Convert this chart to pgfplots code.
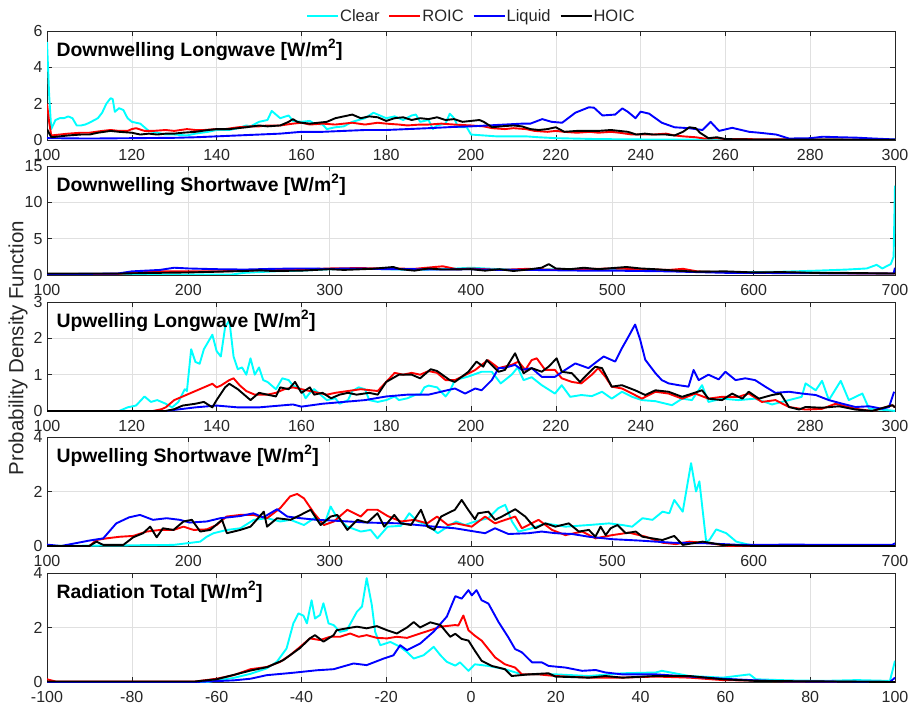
\documentclass[border=0pt]{standalone}
\usepackage{fontspec}
\setmainfont{Liberation Sans}
\usepackage{pgfplots}
\pgfplotsset{compat=1.18}
\definecolor{axgray}{RGB}{38,38,38}
\definecolor{gridgray}{RGB}{224,224,224}
\definecolor{cCyan}{RGB}{0,255,255}
\definecolor{cRed}{RGB}{255,0,0}
\definecolor{cBlue}{RGB}{0,0,255}
\definecolor{cBlack}{RGB}{0,0,0}
\pgfplotsset{panel/.style={
  scale only axis, width=848pt, height=109pt,
  anchor=north west,
  axis line style={axgray, line width=0.6pt},
  tick style={axgray, line width=0.6pt},
  major tick length=5pt,
  tick align=inside,
  grid=major, major grid style={gridgray, line width=0.6pt},
  ticklabel style={font=\fontsize{16}{16}\selectfont, text=axgray, inner sep=0.5pt},
  xticklabel style={yshift=-8.5pt},
  yticklabel style={xshift=-3.8pt},
  /pgf/number format/assume math mode=true,
  /pgf/number format/1000 sep={},
  scaled ticks=false,
  every axis plot/.append style={line width=1.9pt, mark=none, line join=round},
  ymin=0,
}}
\newcommand{\ptitle}[1]{\node[anchor=west, inner sep=0pt, font=\bfseries\fontsize{19.4}{19.4}\selectfont] at (rel axis cs:0.011,0.826) {#1};}
\begin{document}
\begin{tikzpicture}
\useasboundingbox (0,0) rectangle (910pt,-706pt);
% ---------------- Panel 1 ----------------
\begin{axis}[panel, at={(47pt,-31pt)},
  xmin=100, xmax=300, xtick={100,120,...,300},
  ymax=6, ytick={0,2,4,6},
  legend columns=4,
  legend style={at={(0.5,1)}, anchor=center, yshift=15pt, draw=none, fill=none,
    font=\fontsize{16.5}{16.5}\selectfont, text=axgray,
    nodes={inner sep=1pt},
    /tikz/every even column/.append style={column sep=8pt}},
  legend image code/.code={\draw[#1, line width=1.9pt] (0pt,0pt) -- (31pt,0pt);},
]
\addplot[cCyan] coordinates {(100,5.4)(100.5,2.5)(101,0.6)(102,1.1)(103,1.2)(104,1.2)(105,1.3)(106,1.2)(107,0.8)(108,0.8)(109,0.85)(110,0.95)(112,1.2)(113,1.5)(114,2.0)(115,2.3)(115.5,2.25)(116,1.55)(117,1.75)(118,1.65)(119,1.2)(120,1.0)(122,0.9)(123,0.7)(124,0.5)(126,0.4)(128,0.3)(130,0.3)(133,0.25)(135,0.35)(138,0.45)(140,0.55)(143,0.55)(145,0.65)(147,0.8)(148,0.75)(150,1.0)(152,1.1)(153,1.6)(154,1.4)(155,1.2)(157,1.35)(158,1.05)(160,1.0)(162,1.05)(163,0.9)(165,0.85)(166,0.6)(168,0.7)(170,0.75)(172,1.0)(175,1.2)(177,1.5)(178,1.4)(180,1.2)(182,1.3)(184,1.1)(186,1.35)(187,1.4)(188,1.0)(190,1.1)(191,0.6)(192,0.8)(194,0.9)(195,1.45)(196,1.2)(197,0.7)(199,0.7)(200,0.3)(203,0.25)(206,0.2)(210,0.2)(213,0.2)(216,0.15)(220,0.1)(230,0.05)(240,0.03)(260,0.02)(300,0.02)};
\addlegendentry{Clear}
\addplot[cRed] coordinates {(100,2.0)(100.5,1.0)(101,0.25)(103,0.3)(105,0.35)(108,0.4)(110,0.4)(113,0.5)(115,0.55)(117,0.5)(119,0.5)(120,0.6)(121,0.65)(123,0.5)(125,0.5)(128,0.55)(130,0.5)(133,0.6)(135,0.55)(137,0.55)(140,0.6)(142,0.6)(145,0.7)(148,0.75)(150,0.75)(152,0.8)(155,0.8)(158,0.9)(160,0.95)(162,0.85)(165,0.9)(168,0.85)(170,0.9)(172,0.95)(175,0.85)(178,0.95)(180,0.9)(183,0.85)(185,0.8)(188,0.85)(190,0.85)(193,0.9)(196,0.85)(200,0.8)(203,0.75)(205,0.65)(208,0.6)(210,0.65)(213,0.6)(215,0.5)(218,0.45)(220,0.5)(222,0.45)(225,0.4)(228,0.45)(230,0.4)(233,0.45)(235,0.4)(238,0.3)(240,0.3)(243,0.3)(246,0.35)(248,0.25)(250,0.2)(253,0.15)(255,0.08)(258,0.1)(260,0.05)(270,0.04)(280,0.03)(290,0.02)(300,0.01)};
\addlegendentry{ROIC}
\addplot[cBlue] coordinates {(100,0.1)(110,0.08)(120,0.1)(130,0.12)(135,0.15)(140,0.2)(145,0.25)(150,0.3)(155,0.35)(160,0.45)(165,0.45)(170,0.5)(175,0.55)(180,0.55)(185,0.6)(190,0.65)(196,0.72)(200,0.75)(204,0.8)(208,0.85)(212,0.9)(214,0.9)(216.8,1.15)(219,1.0)(221.5,0.95)(224.6,1.5)(227.8,1.8)(229,1.78)(231,1.35)(234,1.4)(235.7,1.74)(237,1.55)(238.8,1.2)(240,1.56)(242,1.45)(245,0.95)(248,0.7)(251.4,0.65)(254.6,0.55)(256.5,1.0)(258.5,0.5)(261.6,0.67)(265.6,0.45)(268,0.4)(272,0.3)(275,0.08)(280,0.1)(283,0.18)(287,0.15)(290.8,0.13)(295,0.08)(300,0.03)};
\addlegendentry{Liquid}
\addplot[cBlack] coordinates {(100,0.6)(101,0.15)(103,0.2)(105,0.25)(108,0.3)(110,0.3)(112,0.4)(115,0.5)(117,0.45)(120,0.4)(122,0.3)(124,0.35)(126,0.3)(128,0.35)(130,0.35)(132,0.4)(135,0.45)(138,0.55)(140,0.6)(143,0.6)(145,0.65)(147,0.7)(150,0.8)(152,0.75)(155,0.8)(157,1.0)(158,1.15)(159,1.0)(160,0.95)(162,0.9)(164,0.95)(166,1.0)(168,1.2)(170,1.3)(172,1.4)(174,1.2)(176,1.3)(178,1.25)(180,1.05)(182,1.2)(184,1.25)(186,1.1)(188,1.2)(190,1.15)(192,1.25)(194,1.1)(196,1.15)(198,1.0)(200,1.05)(202,1.1)(203,1.0)(205,0.7)(207,0.75)(210,0.8)(212,0.75)(214,0.6)(216,0.55)(218,0.6)(220,0.7)(222,0.45)(225,0.5)(228,0.5)(230,0.5)(233,0.55)(235,0.5)(237,0.45)(239,0.3)(241,0.35)(243,0.3)(246,0.3)(248,0.25)(250,0.45)(251.5,0.7)(253,0.65)(254,0.4)(256,0.1)(258,0.15)(260,0.05)(265,0.03)(280,0.02)(300,0.01)};
\addlegendentry{HOIC}
\ptitle{Downwelling Longwave [W/m\textsuperscript{2}]}
\end{axis}
% ---------------- Panel 2 ----------------
\begin{axis}[panel, at={(47pt,-166pt)},
  xmin=100, xmax=700, xtick={100,200,...,700},
  ymax=15, ytick={0,5,10,15},
]
\addplot[cCyan] coordinates {(100,0.1)(150,0.05)(200,0.05)(230,0.05)(240,0.3)(260,0.5)(280,0.6)(300,0.8)(320,0.9)(340,0.8)(360,0.7)(380,0.8)(400,1.0)(420,0.8)(440,0.7)(460,0.8)(480,0.7)(500,0.8)(520,0.7)(540,0.6)(560,0.5)(580,0.4)(600,0.4)(620,0.45)(645,0.6)(666,0.75)(680,0.9)(687,1.4)(691,0.9)(697,1.5)(699,2.5)(700,12.3)};
\addplot[cRed] coordinates {(100,0.1)(150,0.15)(160,0.3)(180,0.5)(200,0.5)(220,0.5)(240,0.6)(260,0.7)(280,0.75)(300,0.9)(320,0.95)(340,0.9)(360,0.85)(380,1.2)(390,0.8)(400,0.9)(420,0.7)(440,0.85)(460,0.7)(480,0.8)(500,0.9)(520,0.8)(540,0.7)(550,0.85)(560,0.5)(580,0.4)(600,0.3)(620,0.35)(640,0.3)(660,0.25)(680,0.2)(700,0.2)};
\addplot[cBlue] coordinates {(100,0.1)(150,0.2)(160,0.5)(180,0.7)(190,1.0)(200,0.9)(220,0.8)(240,0.75)(260,0.85)(280,0.9)(300,0.85)(320,0.9)(340,0.8)(360,0.8)(380,0.75)(400,0.8)(420,0.7)(440,0.7)(460,0.65)(480,0.6)(500,0.6)(520,0.55)(540,0.5)(560,0.4)(580,0.3)(600,0.3)(620,0.25)(640,0.25)(660,0.2)(680,0.2)(699,0.2)(700,1.0)};
\addplot[cBlack] coordinates {(100,0.2)(150,0.2)(180,0.3)(200,0.35)(220,0.45)(240,0.55)(250,0.65)(260,0.55)(280,0.6)(300,0.8)(310,0.7)(330,0.85)(345,1.1)(350,0.8)(360,0.6)(370,0.9)(380,0.75)(400,0.8)(410,0.6)(420,0.8)(430,0.55)(440,0.75)(450,1.0)(455,1.5)(460,0.9)(470,0.8)(480,1.0)(490,0.8)(500,0.95)(510,1.1)(520,0.9)(530,0.8)(545,0.6)(560,0.45)(580,0.5)(600,0.35)(620,0.4)(640,0.3)(660,0.3)(680,0.25)(700,0.2)};
\ptitle{Downwelling Shortwave [W/m\textsuperscript{2}]}
\end{axis}
% ---------------- Panel 3 ----------------
\begin{axis}[panel, at={(47pt,-302pt)},
  xmin=100, xmax=300, xtick={100,120,...,300},
  ymax=3, ytick={0,1,2,3},
]
\addplot[cCyan] coordinates {(100,0)(117,0)(119,0.1)(121,0.15)(123,0.4)(124.5,0.25)(126,0.3)(128,0.2)(129.5,0.1)(131,0.25)(132.5,0.6)(133,0.55)(134,1.7)(135,1.35)(136,1.3)(137,1.7)(139,2.1)(140,1.65)(141,1.5)(142,2.3)(143,2.5)(144,1.5)(145,1.15)(146,1.2)(147,1.0)(148,1.45)(149,1.0)(150,1.2)(151,0.85)(152,0.8)(154,0.6)(155.5,0.9)(157,0.85)(158,0.7)(160,0.6)(161,0.35)(162,0.5)(163,0.6)(165,0.4)(166,0.3)(168,0.35)(169,0.2)(171,0.3)(172,0.55)(173.5,0.65)(175,0.6)(176,0.3)(178,0.25)(180,0.3)(182,0.4)(183,0.3)(185,0.35)(187,0.45)(188,0.45)(189,0.65)(190,0.7)(192,0.65)(194,0.4)(195,0.55)(196.2,0.85)(199.4,0.95)(202.5,1.08)(204.9,1.08)(207,0.76)(209.6,1.0)(211,1.2)(212.4,0.85)(214.3,0.93)(216.7,0.71)(219.8,0.48)(221.4,0.71)(223.4,0.39)(226,0.44)(228.5,0.41)(230.9,0.53)(233.2,0.34)(235.6,0.53)(238,0.39)(240.3,0.3)(243.5,0.27)(247.4,0.16)(249.8,0.34)(252.1,0.3)(254.5,0.71)(256,0.25)(259.2,0.34)(263.1,0.3)(267,0.34)(271,0.18)(275,0.3)(278,0.39)(278.9,0.76)(281.3,0.57)(282.8,0.83)(284.4,0.3)(287.2,0.83)(289.1,0.3)(292.3,0.48)(293.9,0.06)(298.6,0.02)(300,0)};
\addplot[cRed] coordinates {(100,0)(125,0)(127,0.05)(128,0.1)(130,0.3)(133,0.45)(135,0.55)(138,0.7)(139,0.75)(140,0.65)(141,0.7)(143,0.85)(144,0.9)(145.5,0.7)(147,0.55)(149,0.45)(152,0.45)(154,0.5)(156,0.6)(158,0.65)(160,0.6)(162,0.55)(164,0.5)(166,0.45)(168,0.5)(171,0.55)(174,0.6)(178,0.55)(180,0.8)(182,1.05)(184,1.0)(186,1.05)(188,1.0)(190,1.1)(192,1.05)(194,0.85)(196.2,0.85)(201,1.13)(202.5,1.27)(204,1.4)(206.5,1.18)(209.6,1.27)(211.2,1.36)(212.8,1.13)(214.3,1.4)(215.5,1.45)(217.5,1.13)(219.8,1.13)(221.4,0.9)(223.8,0.8)(226,0.76)(228.5,1.0)(230,1.18)(231.7,0.94)(233.2,0.67)(235.6,0.62)(238,0.48)(240.3,0.34)(243.5,0.53)(246.6,0.48)(249.8,0.34)(252.9,0.48)(256,0.34)(259.2,0.39)(263.1,0.39)(265.5,0.48)(268.6,0.25)(271.8,0.3)(275,0.11)(278.9,0.04)(282.8,0.06)(286,0.2)(290.7,0.06)(294.6,0)(299.4,0.16)(300,0.1)};
\addplot[cBlue] coordinates {(100,0)(128,0)(130,0.03)(135,0.1)(140,0.15)(145,0.1)(150,0.1)(155,0.15)(158,0.18)(160,0.12)(165,0.2)(170,0.25)(175,0.3)(180,0.4)(185,0.45)(190,0.45)(196.2,0.62)(198.6,0.48)(201,0.62)(202.5,0.57)(204.9,0.85)(206.5,1.18)(208,1.19)(210.4,1.27)(212,1.13)(214.3,1.18)(216.7,0.94)(219.8,0.94)(222.2,1.13)(224.6,1.31)(227.7,1.18)(229.7,1.36)(231.3,1.5)(234,1.36)(235.6,1.73)(237.2,2.06)(238.7,2.38)(239.9,1.96)(241.1,1.41)(243.5,1.04)(245,0.85)(246.6,0.76)(249,0.71)(251.3,0.67)(252.5,1.13)(253.7,0.85)(256,1.0)(258.4,0.87)(260,1.08)(262.4,0.85)(264.7,0.9)(267,0.85)(269.4,0.67)(271.8,0.5)(275,0.53)(278.1,0.48)(281.3,0.44)(284.4,0.3)(287.6,0.2)(290.7,0.11)(293.9,0.13)(297,0.06)(298.6,0.11)(299.8,0.53)};
\addplot[cBlack] coordinates {(100,0)(128,0)(130,0.05)(132,0.15)(135,0.2)(137,0.25)(139,0.1)(140,0.3)(142,0.65)(143,0.75)(145,0.6)(147,0.4)(148,0.3)(150,0.5)(152,0.45)(154,0.4)(155,0.65)(157,0.6)(158.5,0.8)(160,0.5)(162,0.65)(163,0.45)(165,0.5)(167,0.35)(169,0.45)(171,0.5)(173,0.45)(176,0.5)(178,0.45)(180,0.8)(183,1.0)(186,1.0)(188,0.9)(190.5,1.15)(192,1.1)(195,0.85)(196.2,0.8)(199.4,1.08)(201.3,1.36)(202.9,1.22)(203.7,1.4)(206.5,1.08)(208,1.13)(210.4,1.59)(212.4,1.04)(214.3,1.18)(216.7,1.08)(218.3,1.22)(220.2,1.45)(221.4,1.08)(223.8,1.04)(225.7,0.8)(227.7,1.04)(229.3,1.22)(230.9,1.18)(233.2,0.67)(235.6,0.71)(238.7,0.57)(241.1,0.44)(243.5,0.57)(246.6,0.53)(249.8,0.39)(254.5,0.57)(256,0.34)(259.2,0.3)(261.6,0.48)(264,0.34)(265.5,0.53)(267.9,0.34)(271,0.44)(273,0.48)(275,0.11)(277.4,0.04)(278.9,0.11)(282.8,0.09)(286.8,0.13)(290.7,0.04)(294.6,0)(299.4,0.16)(300,0.1)};
\ptitle{Upwelling Longwave [W/m\textsuperscript{2}]}
\end{axis}
% ---------------- Panel 4 ----------------
\begin{axis}[panel, at={(47pt,-437pt)},
  xmin=100, xmax=700, xtick={100,200,...,700},
  ymax=4, ytick={0,2,4},
]
\addplot[cCyan] coordinates {(100,0)(189.5,0.04)(199,0.1)(208.4,0.16)(213,0.34)(217.9,0.47)(227.3,0.59)(236.8,0.65)(246.3,0.96)(255.7,1.02)(265,0.9)(272.3,0.96)(281.8,0.77)(289,1.02)(296,0.77)(300.7,1.45)(305.4,1.02)(312.5,0.71)(322,0.53)(329,0.59)(333.8,0.28)(341,0.71)(350.4,0.74)(356.3,1.2)(362.2,0.9)(369.3,0.77)(376.5,0.47)(383.5,0.71)(389.5,0.9)(395.7,0.77)(402.8,0.9)(412.3,1.02)(419.4,1.39)(424.2,1.51)(429,0.9)(433.6,0.53)(443,0.65)(452.6,0.83)(466.8,0.71)(483.4,0.77)(497.6,0.83)(507,0.77)(514,0.71)(521.3,1.02)(528.4,0.96)(535.5,1.26)(540.3,1.2)(543.8,1.69)(549.8,1.26)(555.7,3.04)(559.2,2.0)(561.6,2.37)(566.4,0.16)(568.7,0.22)(573.5,0.61)(580.6,0.47)(587.7,0.16)(594.8,0.07)(602,0)(700,0)};
\addplot[cRed] coordinates {(100,0.02)(105,0)(130,0)(135,0.22)(142,0.28)(151.6,0.34)(161,0.37)(170.5,0.53)(180,0.59)(189.5,0.59)(196.6,0.71)(203.7,0.59)(213,0.61)(220,0.77)(227,1.08)(236.8,1.14)(246,1.14)(255.7,1.02)(265,1.39)(272,1.82)(277,1.91)(281.8,1.75)(289,1.2)(296,0.77)(303,0.9)(312.5,1.33)(322,1.08)(326.7,1.33)(333.8,1.33)(341,1.1)(350.4,0.9)(360,0.96)(369,0.83)(376,1.08)(383.5,0.77)(389.5,0.83)(400.5,0.71)(410,1.08)(417,0.83)(424.2,0.96)(431.3,1.08)(436,0.65)(447.8,0.96)(457.3,0.59)(466.8,0.4)(478.7,0.53)(488,0.28)(500,0.4)(511.8,0.49)(523.7,0.34)(535.5,0.12)(545,0.07)(554.5,0.16)(568.7,0.1)(583,0)(700,0)};
\addplot[cBlue] coordinates {(100,0.05)(110,0)(120,0.1)(130,0.2)(139.8,0.28)(149,0.83)(158,1.05)(165.8,1.14)(175,0.96)(184.7,1.02)(194,0.96)(201,0.86)(213,0.9)(222.6,1.02)(236.8,1.1)(246,1.2)(253,1.05)(262.8,1.35)(270,1.08)(279.4,1.02)(291,0.96)(303,0.93)(326.7,0.86)(350.4,0.83)(374,0.71)(388.6,0.65)(402.8,0.53)(410,0.47)(417,0.65)(426.5,0.44)(440.8,0.47)(450,0.53)(459.7,0.47)(471.6,0.44)(483.4,0.34)(500,0.25)(519,0.2)(542.7,0.12)(566,0.1)(590,0.04)(625.6,0.05)(673,0.04)(698,0.04)(700,0.1)};
\addplot[cBlack] coordinates {(100,0)(130,0)(135,0.16)(139.8,0.04)(154,0.04)(161,0.32)(168,0.47)(173,0.71)(177.6,0.32)(182,0.65)(189.5,0.59)(196.6,0.9)(202.5,0.96)(208.4,0.53)(215.5,0.59)(223.8,0.96)(227.3,0.47)(236.8,0.59)(244,0.71)(253.4,1.26)(255.7,0.71)(262.8,1.02)(272.3,0.96)(279.4,1.14)(286.5,1.33)(293.6,0.77)(300.7,1.08)(305.4,1.14)(312.5,0.59)(319.6,0.96)(326.7,0.86)(333.8,1.2)(338.6,0.71)(345.7,1.14)(350.4,0.83)(357.5,0.77)(364.6,1.33)(369.3,0.71)(374,0.59)(378.8,1.08)(388.6,1.33)(393.4,1.69)(398,1.33)(402.8,0.98)(405,1.2)(412.3,1.26)(417,0.96)(421.8,1.08)(431.3,1.35)(438.4,1.08)(445.5,0.65)(452.6,0.83)(459.7,0.71)(469.2,0.83)(476.3,0.53)(483.4,0.59)(488,0.34)(491.7,0.71)(495.3,0.4)(498.8,0.65)(503.6,0.77)(509.5,0.47)(516.6,0.53)(521.3,0.34)(528.4,0.28)(535.5,0.22)(543.8,0.37)(549.8,0.04)(564,0.16)(578,0.04)(602,0)(700,0)};
\ptitle{Upwelling Shortwave [W/m\textsuperscript{2}]}
\end{axis}
% ---------------- Panel 5 ----------------
\begin{axis}[panel, at={(47pt,-573pt)},
  xmin=-100, xmax=100, xtick={-100,-80,...,100},
  ymax=4, ytick={0,2,4},
]
\addplot[cCyan] coordinates {(-100,0)(-62,0)(-60,0.06)(-56,0.15)(-52,0.3)(-48.2,0.5)(-45.8,0.74)(-43.5,1.23)(-41.9,2.15)(-40.7,2.52)(-39.5,2.43)(-38.7,2.15)(-37.6,3.0)(-36.8,2.33)(-35.6,2.46)(-34.8,2.89)(-33.6,2.15)(-32.4,2.09)(-30.9,1.84)(-29.3,1.9)(-26.9,2.58)(-25.7,2.77)(-24.6,3.81)(-23.4,2.83)(-22.6,1.84)(-21.4,1.35)(-19,1.47)(-16.7,1.29)(-15.1,1.1)(-13.5,0.86)(-11.2,0.98)(-8.8,1.29)(-7.2,0.98)(-5.7,0.74)(-3.7,0.6)(-2.6,0.72)(-0.6,0.41)(0.9,0.65)(4.1,0.59)(8,0.47)(12,0.28)(20,0.28)(27.8,0.22)(35.7,0.32)(43.6,0.35)(45,0.41)(51.5,0.22)(59.4,0.16)(65.7,0.28)(67.2,0.1)(75,0.06)(83,0.04)(91,0.07)(98.8,0.04)(100,0.78)};
\addplot[cRed] coordinates {(-100,0.1)(-98,0.02)(-65,0.02)(-60,0.12)(-56,0.25)(-52,0.47)(-48.2,0.55)(-45,0.74)(-42.7,0.98)(-40.3,1.29)(-38,1.6)(-35.6,1.54)(-33.2,1.66)(-30.9,1.66)(-28.5,1.78)(-26.5,1.66)(-24.6,1.72)(-22.2,1.62)(-19.8,1.6)(-17.5,1.66)(-15.1,1.62)(-12,1.78)(-9.6,1.9)(-7.2,2.03)(-3.7,2.09)(-3,2.07)(-1.8,2.44)(-0.6,1.9)(0.9,1.7)(2.5,1.52)(4.1,1.21)(5.7,0.9)(8,0.65)(10.4,0.53)(12,0.28)(15.9,0.28)(19.9,0.22)(27.8,0.16)(35.7,0.16)(43.6,0.2)(51.5,0.16)(59.4,0.07)(67.2,0.05)(75,0.02)(100,0)};
\addplot[cBlue] coordinates {(-100,0)(-65,0)(-56,0.06)(-52,0.12)(-48.2,0.25)(-41.9,0.34)(-36.4,0.43)(-32.4,0.47)(-27.7,0.68)(-24.6,0.62)(-20.6,0.86)(-18.3,0.98)(-16.7,1.35)(-15.1,1.17)(-12,1.41)(-8.8,1.85)(-5.7,2.4)(-3.7,3.15)(-2.2,3.06)(-0.6,3.37)(0.2,3.18)(1.3,3.37)(2.5,3.0)(4.1,2.88)(6.5,2.2)(8.8,1.64)(10.4,1.21)(12,1.09)(14.4,0.72)(16.7,0.72)(18.3,0.59)(22.3,0.53)(26.2,0.41)(29.4,0.44)(31.7,0.35)(35.7,0.28)(43.6,0.28)(51.5,0.2)(59.4,0.12)(67.2,0.06)(75,0.02)(98.8,0)(100,0.16)};
\addplot[cBlack] coordinates {(-100,0.02)(-65,0.02)(-60,0.1)(-52,0.42)(-48,0.55)(-44.3,0.8)(-40.3,1.25)(-38,1.6)(-36.8,1.72)(-34.8,1.48)(-32.4,1.72)(-31.7,1.9)(-29.3,1.97)(-26.9,2.03)(-24.6,1.97)(-22.2,2.05)(-19.8,1.9)(-17.5,1.78)(-15.1,2.0)(-13.5,2.2)(-12,2.0)(-9.6,2.19)(-7.2,2.09)(-4.9,1.66)(-3.7,1.77)(-2.2,1.58)(-0.6,1.52)(0.9,1.15)(2.5,0.78)(4.9,0.59)(8,0.47)(9.6,0.22)(13.6,0.28)(18.3,0.32)(19.9,0.2)(27.8,0.16)(31.7,0.22)(35.7,0.16)(43.6,0.22)(51.5,0.22)(59.4,0.1)(67.2,0.04)(100,0)};
\ptitle{Radiation Total [W/m\textsuperscript{2}]}
\end{axis}
\node[rotate=90, font=\fontsize{20.5}{20.5}\selectfont, text=axgray] at (18pt,-348pt) {Probability Density Function};
\end{tikzpicture}
\end{document}
